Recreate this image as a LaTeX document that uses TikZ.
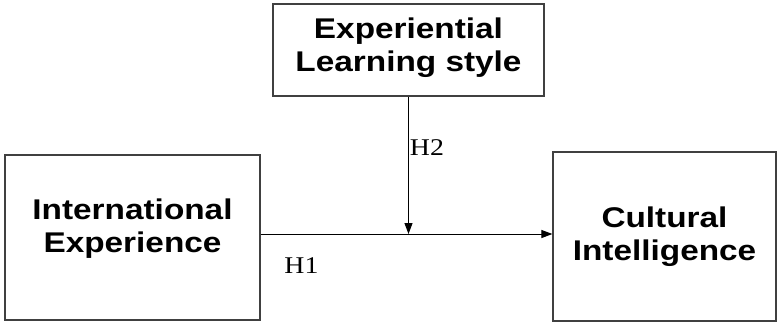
\documentclass[tikz,border=0pt]{standalone}
\usepackage{fontspec}
\newfontfamily\boxfont{Liberation Sans}[FakeStretch=1.17]
\newfontfamily\hypfont{Liberation Serif}[FakeStretch=1.16]
\usetikzlibrary{arrows.meta}
\tikzset{
	varbox/.style={draw=black!75, line width=1.2pt, inner sep=0pt, fill=white},
	vartext/.style={align=center, inner sep=0pt, font=\boxfont\bfseries\fontsize{28.5}{33}\selectfont},
	hyptext/.style={inner sep=0pt, font=\hypfont\fontsize{24}{28}\selectfont},
	arr/.style={-{Triangle[length=11pt,width=8pt]}, line width=1pt, black}
}

\begin{document}
\begin{tikzpicture}[x=1pt, y=-1pt]
			%%%%% START %%%%%
			\useasboundingbox (0, 0) rectangle (777, 322);
			
			% variables
			\node[varbox, minimum width=271pt, minimum height=92pt] (els) at (408.5, 50) {};
			\node[varbox, minimum width=255pt, minimum height=165pt] (ie) at (132.5, 237.5) {};
			\node[varbox, minimum width=223pt, minimum height=169pt] (ci) at (664.5, 236.5) {};
			
			\node[vartext] (elsText) at ([yshift=2pt]els.center) {Experiential\\Learning style};
			\node[vartext] (ieText) at ([yshift=9pt]ie.center) {International\\Experience};
			\node[vartext] (ciText) at ([yshift=0pt]ci.center) {Cultural\\Intelligence};
			
			% paths
			\coordinate (mod) at (408.5, 234);
			\draw[arr] (ie.east |- mod) -- (ci.west |- mod);
			\draw[arr] (els.south) -- (mod);
			
			\node[hyptext] (h2) at (427, 148) {H2};
			\node[hyptext] (h1) at (301.5, 266) {H1};
			%%%%% END %%%%%
\end{tikzpicture}
\end{document}
